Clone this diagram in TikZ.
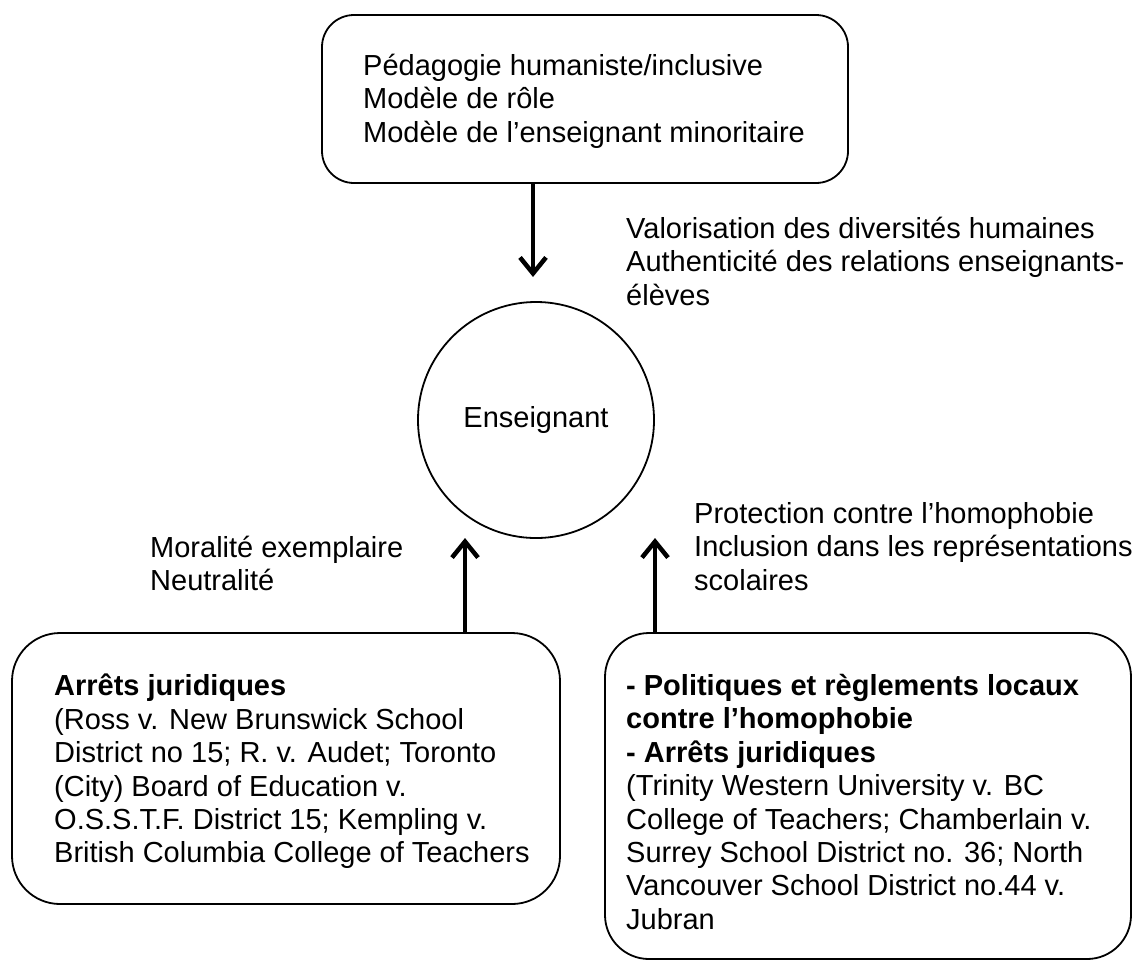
\documentclass[tikz,border=0pt]{standalone}
\usepackage{fontspec}
\setmainfont{Liberation Sans}
\usetikzlibrary{arrows.meta}

\tikzset{
  box/.style={draw=black, line width=1.8pt, rounded corners=#1, inner sep=0pt},
  box/.default=48pt,
  txt/.style={anchor=north west, align=left, inner sep=0pt},
  arr/.style={line width=4.5pt, -{Straight Barb[length=16pt,width=26pt]}},
}

\begin{document}
\begin{tikzpicture}[x=1pt,y=-1pt,font=\fontsize{29}{33.4}\selectfont]
\useasboundingbox (0,0) rectangle (1139,962);

% boite du haut
\node[box=32pt, minimum width=526pt, minimum height=168pt] (haut) at (585,99) {};
\node[txt] (hautTxt) at (363,54) {Pédagogie humaniste/inclusive\\Modèle de rôle\\Modèle de l’enseignant minoritaire};

% enseignant
\node[draw, circle, line width=1.8pt, minimum size=236pt, inner sep=0pt] (ens) at (536,420) {Enseignant};

% boites du bas
\node[box, minimum width=548pt, minimum height=271pt] (gauche) at (286,768.5) {};
\node[txt] (gaucheTxt) at (54,674) {\textbf{Arrêts juridiques}\\(Ross v. New Brunswick School\\District no 15; R. v. Audet; Toronto\\(City) Board of Education v.\\O.S.S.T.F. District 15; Kempling v.\\British Columbia College of Teachers};
\node[box=44pt, minimum width=526pt, minimum height=326pt] (droite) at (868,796) {};
\node[txt] (droiteTxt) at (626,674) {\textbf{- Politiques et règlements locaux}\\\textbf{contre l’homophobie}\\\textbf{- Arrêts juridiques}\\(Trinity Western University v. BC\\College of Teachers; Chamberlain v.\\Surrey School District no. 36; North\\Vancouver School District no.44 v.\\Jubran};

% etiquettes des fleches
\node[txt] (valTxt) at (626,217) {Valorisation des diversités humaines\\Authenticité des relations enseignants-\\élèves};
\node[txt] (morTxt) at (150,536) {Moralité exemplaire\\Neutralité};
\node[txt] (proTxt) at (694,502) {Protection contre l’homophobie\\Inclusion dans les représentations\\scolaires};

% fleches
\coordinate (hautBout) at (533,277);
\coordinate (gaucheBout) at (465,538);
\coordinate (droiteBout) at (655,538);
\draw[arr] (haut.south -| hautBout) -- (hautBout);
\draw[arr] (gauche.north -| gaucheBout) -- (gaucheBout);
\draw[arr] (droite.north -| droiteBout) -- (droiteBout);
\end{tikzpicture}
\end{document}
